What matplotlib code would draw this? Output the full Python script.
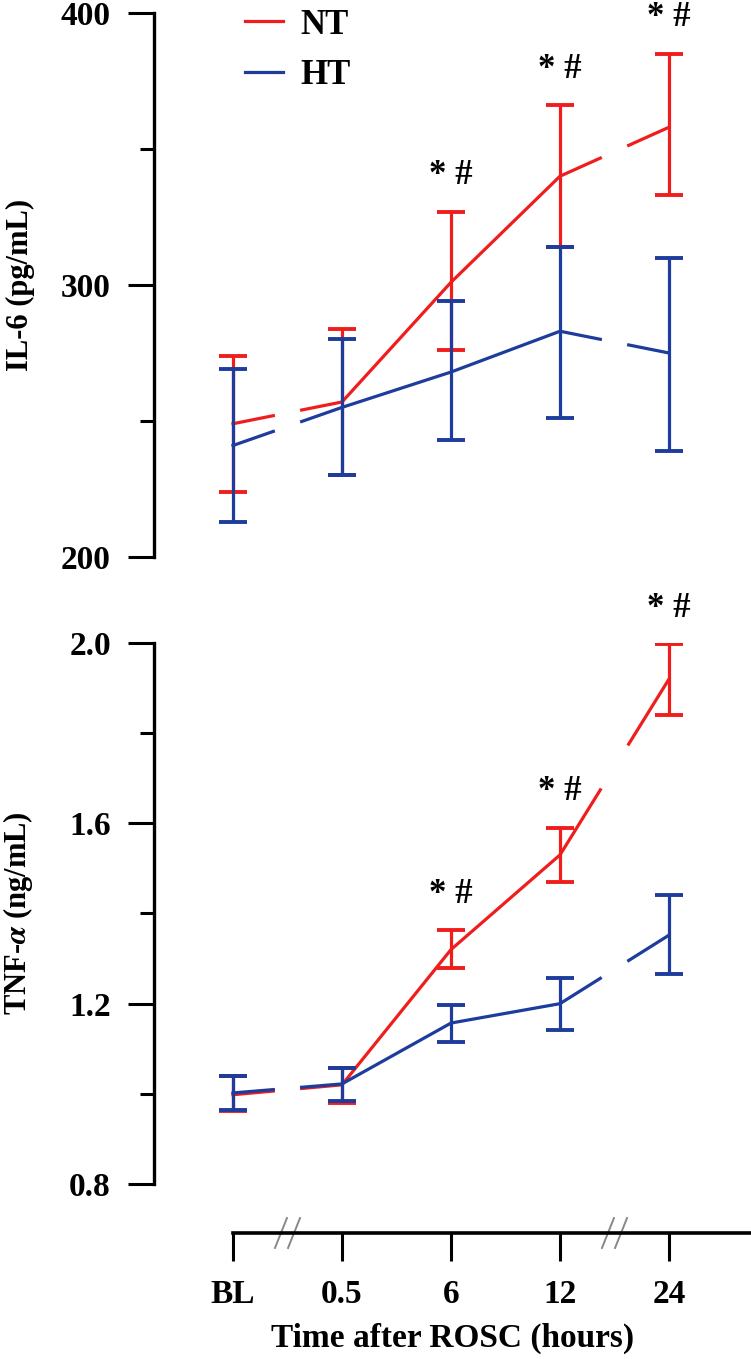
import numpy as np
import matplotlib
matplotlib.use("Agg")
import matplotlib.pyplot as plt
from matplotlib.ticker import MultipleLocator

plt.rcParams['font.family'] = ['Liberation Serif', 'DejaVu Serif']
plt.rcParams['font.weight'] = 'bold'
plt.rcParams['mathtext.fontset'] = 'stix'

# data
times = ['BL', '0.5', '6', '12', '24']
stars = [False, False, True, True, True]

il6_nt = [249, 257, 301, 340, 358]
il6_nt_lo = [224, 230, 276, 314, 333]
il6_nt_hi = [274, 284, 327, 366, 385]
il6_ht = [241, 255, 268, 283, 275]
il6_ht_lo = [213, 230, 243, 251, 239]
il6_ht_hi = [269, 280, 294, 314, 310]

tnf_nt = [0.998, 1.02, 1.32, 1.53, 1.92]
tnf_nt_lo = [0.962, 0.98, 1.28, 1.47, 1.84]
tnf_nt_hi = [1.04, 1.058, 1.363, 1.59, 1.997]
tnf_ht = [1.002, 1.022, 1.157, 1.20, 1.352]
tnf_ht_lo = [0.965, 0.985, 1.115, 1.142, 1.265]
tnf_ht_hi = [1.04, 1.058, 1.197, 1.257, 1.442]

RED = '#f01d1d'
BLUE = '#1d3c9c'
breaks = [0.5, 3.5]   # axis breaks between BL/0.5 and 12/24

x = np.arange(len(times))
W = 751
H = 1359
fig = plt.figure(figsize=(W / 100, H / 100), dpi=100)

left = 154 / W
width = (W - 154) / W
xlim = (-79 / 109, (W - 233) / 109)

ax1 = fig.add_axes([left, 1 - 557 / H, width, 544 / H])
ax2 = fig.add_axes([left, 1 - 1184 / H, width, 541 / H])
ax3 = fig.add_axes([left, 1 - 1233 / H, width, 0.0005])


def gapped(xv, yv, half=0.13):
    # insert NaN gaps where the x axis is broken
    px, py = [], []
    for i in range(len(xv)):
        px.append(xv[i])
        py.append(yv[i])
        if i < len(xv) - 1:
            for b in breaks:
                if xv[i] < b < xv[i + 1]:
                    px += [b - half, np.nan, b + half]
                    py += [np.interp(b - half, xv, yv), np.nan, np.interp(b + half, xv, yv)]
    return px, py


def draw(ax, mean, lo, hi, color, label):
    mean = np.array(mean)
    err = [mean - np.array(lo), np.array(hi) - mean]
    ax.errorbar(x, mean, yerr=err, fmt='none', ecolor=color, elinewidth=2.3,
                capsize=10, capthick=2.8)
    px, py = gapped(x, mean)
    line, = ax.plot(px, py, color=color, lw=2.3, label=label)
    return line


def stars_above(ax, hi):
    for i, s in enumerate(stars):
        if s:
            ax.annotate('* #', (x[i], hi[i]), xytext=(0, 26), textcoords='offset points',
                        ha='center', va='center', fontsize=25, fontweight='bold')


def style_y(ax, lo, hi, major, minor, label, fmt):
    ax.set_xlim(*xlim)
    ax.set_ylim(lo, hi)
    for s in ['top', 'right', 'bottom']:
        ax.spines[s].set_visible(False)
    ax.spines['left'].set_linewidth(2.4)
    ax.yaxis.set_major_locator(MultipleLocator(major))
    ax.yaxis.set_minor_locator(MultipleLocator(minor))
    ax.yaxis.set_major_formatter(fmt)
    ax.tick_params(axis='y', which='major', length=19, width=2.2, pad=12, labelsize=24)
    ax.tick_params(axis='y', which='minor', length=10, width=2.2)
    ax.tick_params(axis='x', bottom=False, labelbottom=False)
    ax.set_ylabel(label, fontsize=22, fontweight='bold')
    ax.yaxis.set_label_coords(-0.2, 0.5)
    ax.patch.set_alpha(0)


l1 = draw(ax1, il6_nt, il6_nt_lo, il6_nt_hi, RED, 'NT')
l2 = draw(ax1, il6_ht, il6_ht_lo, il6_ht_hi, BLUE, 'HT')
stars_above(ax1, il6_nt_hi)
style_y(ax1, 200, 400, 100, 50, 'IL-6 (pg/mL)', '{x:.0f}')
ax1.legend(handles=[l1, l2], loc='upper left', bbox_to_anchor=(0.152, 1.008),
           frameon=False, fontsize=25, handlelength=1.1, handletextpad=0.5,
           labelspacing=0.5, borderpad=0, borderaxespad=0)

draw(ax2, tnf_nt, tnf_nt_lo, tnf_nt_hi, RED, 'NT')
draw(ax2, tnf_ht, tnf_ht_lo, tnf_ht_hi, BLUE, 'HT')
stars_above(ax2, tnf_nt_hi)
style_y(ax2, 0.8, 2.0, 0.4, 0.2, r'TNF-$\alpha$ (ng/mL)', '{x:.1f}')

# separate broken x axis
ax3.set_xlim(*xlim)
ax3.set_ylim(0, 1)
for s in ['top', 'right', 'left']:
    ax3.spines[s].set_visible(False)
ax3.spines['bottom'].set_bounds(0, xlim[1])
ax3.spines['bottom'].set_linewidth(2.6)
ax3.set_xticks(x)
ax3.set_xticklabels(times)
ax3.set_yticks([])
ax3.tick_params(axis='x', length=20, width=2.2, pad=13, labelsize=24)
ax3.set_xlabel('Time after ROSC (hours)', fontsize=24, fontweight='bold', labelpad=9)
ax3.patch.set_alpha(0)
for b in breaks:
    ax3.plot([b - 0.07, b + 0.07], [0, 0], color='white', lw=6, clip_on=False,
             solid_capstyle='butt')
    for dx in (-0.06, 0.06):
        ax3.plot([b + dx - 0.055, b + dx + 0.055], [-22, 22], color='#888888', lw=1.4,
                 clip_on=False)

fig.savefig('out.png', dpi=100)
